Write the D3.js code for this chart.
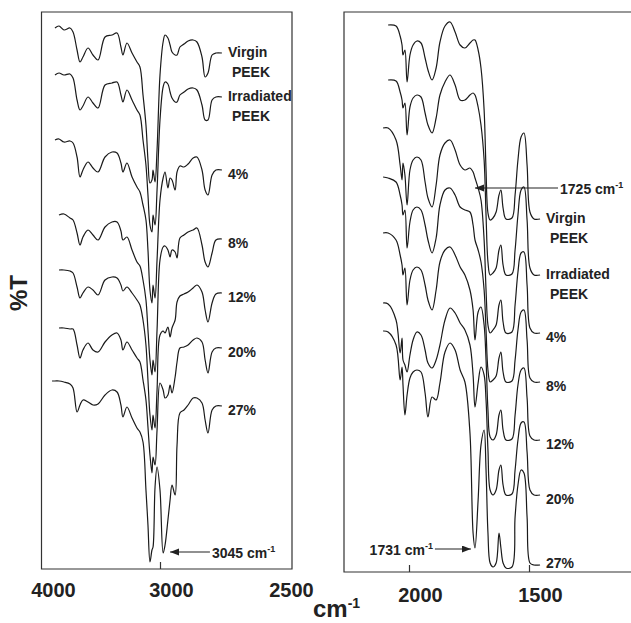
<!DOCTYPE html>
<html>
<head>
<meta charset="utf-8">
<script src="https://cdn.jsdelivr.net/npm/d3@7"></script>
<style>
body { margin: 0; background: #fff; }
svg text { font-family: "Liberation Sans", Arial, sans-serif; font-weight: bold; fill: #222; }
</style>
</head>
<body>
<script>
"use strict";

var width = 631, height = 623;

// labels of the stacked spectra, top to bottom
var seriesLabels = [["Virgin", "PEEK"], ["Irradiated", "PEEK"], ["4%"], ["8%"], ["12%"], ["20%"], ["27%"]];

// left panel: wavenumber grid (cm-1) and %T (offset, arbitrary units)
var leftWave = [3915, 3890, 3856, 3814, 3763, 3737, 3703, 3678, 3653, 3610, 3568, 3525, 3466, 3407, 3364, 3331, 3314, 3280, 3237, 3195,
  3170, 3144, 3119, 3102, 3085, 3068, 3059, 3042, 3025, 3000, 2987, 2979, 2967, 2958, 2950, 2937, 2929, 2917, 2900, 2883,
  2862, 2846, 2825, 2812, 2800, 2783, 2767, 2742];
var leftVirgin = [null, 541, 543, 539, 541, 537, 519, 507, 512, 521, 514, 509, 532, 534, 536, 522, 514, 526, 516, 507, 502, 474, 444, 409, 386, 389, 399, 387, 419, 494, 527, 534, 531, 524, 517, 514, 514, 522, 525, 528, 529, 527, 512, 492, 496, 514, 516, 516];
var leftIrradiated = [null, 494, 496, 494, 495, 491, 469, 459, 463, 472, 466, 461, 484, 486, 487, 474, 467, 479, 469, 459, 454, 429, 404, 374, 344, 337, 354, 344, 379, 449, 482, 487, 485, 477, 471, 467, 467, 474, 477, 480, 481, 479, 464, 449, 449, 469, 472, 472];
var left4 = [null, 429, 430, 427, 428, 426, 412, 392, 399, 407, 401, 397, 412, 417, 416, 406, 397, 406, 392, 382, 377, 364, 349, 319, 279, 266, 284, 271, 309, 369, 391, 397, 381, 391, 389, 379, 397, 403, 402, 405, 411, 412, 399, 379, 374, 394, 399, 399];
var left8 = [null, null, 354, 355, 351, 349, 336, 324, 332, 339, 334, 329, 342, 347, 347, 338, 329, 332, 319, 307, 303, 289, 269, 239, 209, 194, 209, 197, 239, 309, 322, 323, 319, 312, 319, 317, 311, 331, 334, 337, 339, 341, 324, 307, 302, 316, 329, 330];
var left12 = [null, null, 299, 299, 298, 296, 282, 271, 276, 282, 279, 274, 289, 292, 291, 284, 278, 282, 276, 269, 264, 249, 224, 189, 154, 139, 154, 141, 179, 234, 238, 236, 242, 232, 241, 249, 267, 273, 275, 277, 281, 284, 277, 259, 247, 266, 275, 276];
var left20 = [null, null, 241, 241, 240, 240, 224, 211, 219, 226, 219, 217, 227, 234, 236, 229, 219, 227, 219, 211, 207, 189, 169, 142, 114, 96, 112, 104, 139, 186, 179, 171, 174, 184, 176, 192, 207, 221, 222, 224, 229, 231, 227, 209, 196, 217, 221, 221];
var left27 = [188, 188, 188, 187, 185, 181, 157, 164, 169, 167, 164, 165, 174, 179, 177, 164, 152, 162, 151, 141, 137, 127, 79, 44, 7, 19, 22, 82, 102, 79, 16, 24, 49, 69, 84, 74, 124, 156, 159, 164, 171, 171, 166, 149, 136, 159, 163, 163];

// right panel
var rightWave = [2108, 2087, 2054, 2037, 2029, 2025, 2017, 2008, 1996, 1983, 1967, 1950, 1933, 1921, 1904, 1887, 1871, 1850, 1829, 1808,
  1787, 1767, 1746, 1733, 1725, 1712, 1700, 1687, 1679, 1671, 1662, 1650, 1637, 1625, 1617, 1608, 1596, 1571, 1558, 1546,
  1533, 1521, 1508, 1496, 1479, 1454];
var rightVirgin = [null, 547, 546, 536, 527, 517, 522, 490, 517, 527, 531, 529, 514, 502, 492, 504, 530, 546, 550, 540, 527, 524, 529, 532, 532, 522, 504, 462, 402, 359, 352, 354, 360, 377, 382, 364, 353, 354, 377, 412, 435, 439, 407, 360, 353, 353];
var rightIrradiated = [null, 492, 491, 480, 472, 464, 469, 437, 465, 474, 477, 475, 459, 447, 439, 454, 477, 490, 497, 487, 472, 472, 477, 479, 477, 465, 447, 412, 357, 310, 297, 299, 304, 322, 327, 307, 297, 298, 322, 357, 382, 385, 352, 304, 297, 297];
var right4 = [444, 444, 432, 407, 392, 409, 397, 367, 402, 412, 415, 412, 390, 374, 365, 387, 417, 429, 432, 422, 407, 402, 404, 400, 394, 384, 372, 332, 282, 247, 239, 242, 247, 267, 272, 250, 239, 240, 267, 300, 319, 320, 287, 244, 239, 239];
var right8 = [395, 394, 390, 377, 367, 357, 362, 324, 350, 362, 365, 362, 347, 332, 319, 334, 367, 382, 384, 377, 365, 362, 360, 347, 332, 322, 310, 282, 242, 202, 190, 192, 196, 214, 220, 200, 190, 191, 212, 242, 260, 262, 232, 194, 190, 190];
var right12 = [339, 339, 332, 317, 307, 297, 304, 267, 292, 302, 305, 302, 287, 272, 262, 282, 310, 322, 325, 317, 305, 297, 282, 262, 232, 260, 265, 247, 212, 162, 135, 132, 137, 157, 162, 142, 132, 133, 157, 187, 202, 204, 174, 136, 132, 132];
var right20 = [269, 268, 252, 219, 234, 212, 207, 200, 217, 232, 240, 237, 222, 209, 204, 212, 227, 252, 264, 259, 249, 242, 227, 197, 165, 189, 205, 197, 172, 122, 82, 77, 82, 102, 107, 87, 77, 78, 102, 132, 149, 150, 120, 82, 77, 77];
var right27 = [241, 240, 227, 192, 205, 187, 157, 177, 194, 200, 202, 200, 179, 155, 175, 172, 189, 220, 229, 222, 202, 190, 139, 39, 24, 72, 127, 142, 102, 39, 9, 5, 9, 39, 24, 9, 4, 5, 55, 87, 102, 99, 55, 9, 7, 7];

var leftTicks = [4000, 3000, 2500];
var leftInnerTicks = [3000];
var rightTicks = [2000, 1500];

// peak annotations: [wavenumber, %T] of arrow tip and tail
var leftNotes = [{value: "3045", tip: [2958, 17], tail: [2792, 17], side: "right"}];
var rightNotes = [
  {value: "1725", tip: [1725, 384], tail: [1379, 384], side: "right"},
  {value: "1731", tip: [1742, 23], tail: [1892, 23], side: "left"}
];

var svg = d3.select("body").append("svg")
  .attr("width", width)
  .attr("height", height);

svg.append("defs").append("marker")
  .attr("id", "arrow")
  .attr("markerUnits", "userSpaceOnUse")
  .attr("markerWidth", 10).attr("markerHeight", 8)
  .attr("refX", 9).attr("refY", 3.5)
  .attr("orient", "auto")
  .append("path")
  .attr("d", "M0,0L9,3.5L0,7Z")
  .attr("fill", "#222");

var drawPanel = function(p) {
  var g = svg.append("g");

  g.append("path")
    .attr("d", p.boxPath)
    .attr("fill", "none")
    .attr("stroke", "#333")
    .attr("stroke-width", 1.2);

  // tick labels (shifted right like the original)
  var labelAxis = d3.axisBottom(p.x).tickValues(p.ticks).tickSize(0).tickPadding(p.pad).tickFormat(d3.format("d"));
  var la = g.append("g")
    .attr("transform", "translate(0," + p.bottom + ")")
    .call(labelAxis);
  la.select(".domain").remove();
  la.attr("font-family", null);
  la.selectAll("text")
    .attr("dx", 11)
    .style("font-size", "20px");

  var tickAxis = d3.axisBottom(p.x).tickValues(p.innerTicks).tickSize(-7).tickFormat("");
  var ta = g.append("g")
    .attr("transform", "translate(0," + p.bottom + ")")
    .call(tickAxis);
  ta.select(".domain").remove();
  ta.selectAll("line").attr("stroke", "#333").attr("stroke-width", 1.2);

  var line = d3.line()
    .defined(function(d) { return d[1] != null; })
    .x(function(d) { return p.x(d[0]); })
    .y(function(d) { return p.y(d[1]); })
    .curve(d3.curveCatmullRom.alpha(0.5));

  p.series.forEach(function(values, i) {
    var pts = p.wave.map(function(w, j) { return [w, values[j]]; });
    g.append("path")
      .attr("d", line(pts))
      .attr("fill", "none")
      .attr("stroke", "#1a1a1a")
      .attr("stroke-width", 1.2);

    var endX = p.x(p.wave[p.wave.length - 1]);
    var endY = p.y(values[values.length - 1]);
    var lines = seriesLabels[i];
    var base = lines.length > 1 ? endY + 4 : Math.min(endY + 9, p.bottom - 4);
    lines.forEach(function(t, k) {
      g.append("text")
        .attr("x", endX + (k > 0 ? 10 : 6))
        .attr("y", base + k * 20)
        .style("font-size", "14px")
        .text(t);
    });
  });

  p.notes.forEach(function(n) {
    var tx = p.x(n.tail[0]), ty = p.y(n.tail[1]);
    g.append("line")
      .attr("x1", tx).attr("y1", ty)
      .attr("x2", p.x(n.tip[0])).attr("y2", p.y(n.tip[1]))
      .attr("stroke", "#222")
      .attr("stroke-width", 1.1)
      .attr("marker-end", "url(#arrow)");
    var t = g.append("text")
      .attr("x", n.side === "right" ? tx + 2 : tx - 2)
      .attr("y", ty + 6)
      .attr("text-anchor", n.side === "right" ? "start" : "end")
      .style("font-size", "14px");
    t.append("tspan").text(n.value + " cm");
    t.append("tspan").attr("dy", -6).style("font-size", "9px").text("-1");
  });
};

var xLeft = d3.scaleLinear().domain([4000, 3000, 2500]).range([42, 160, 280]);
var yLeft = d3.scaleLinear().domain([0, 557]).range([569, 12]);

drawPanel({
  x: xLeft, y: yLeft, bottom: 569, pad: 14,
  boxPath: "M41.5,12H292V569H41.5Z",
  ticks: leftTicks, innerTicks: leftInnerTicks,
  wave: leftWave,
  series: [leftVirgin, leftIrradiated, left4, left8, left12, left20, left27],
  notes: leftNotes
});

var xRight = d3.scaleLinear().domain([2000, 1500]).range([409, 529]);
var yRight = d3.scaleLinear().domain([0, 560]).range([572, 12]);

drawPanel({
  x: xRight, y: yRight, bottom: 572, pad: 16,
  boxPath: "M640,12H344V572H640",
  ticks: rightTicks, innerTicks: rightTicks,
  wave: rightWave,
  series: [rightVirgin, rightIrradiated, right4, right8, right12, right20, right27],
  notes: rightNotes
});

// axis titles
svg.append("text")
  .attr("transform", "translate(27,293) rotate(-90)")
  .attr("text-anchor", "middle")
  .style("font-size", "24px")
  .text("%T");

var xt = svg.append("text")
  .attr("x", 313)
  .attr("y", 617)
  .style("font-size", "24px");
xt.append("tspan").text("cm");
xt.append("tspan").attr("dy", -9).style("font-size", "14px").text("-1");
</script>
</body>
</html>
